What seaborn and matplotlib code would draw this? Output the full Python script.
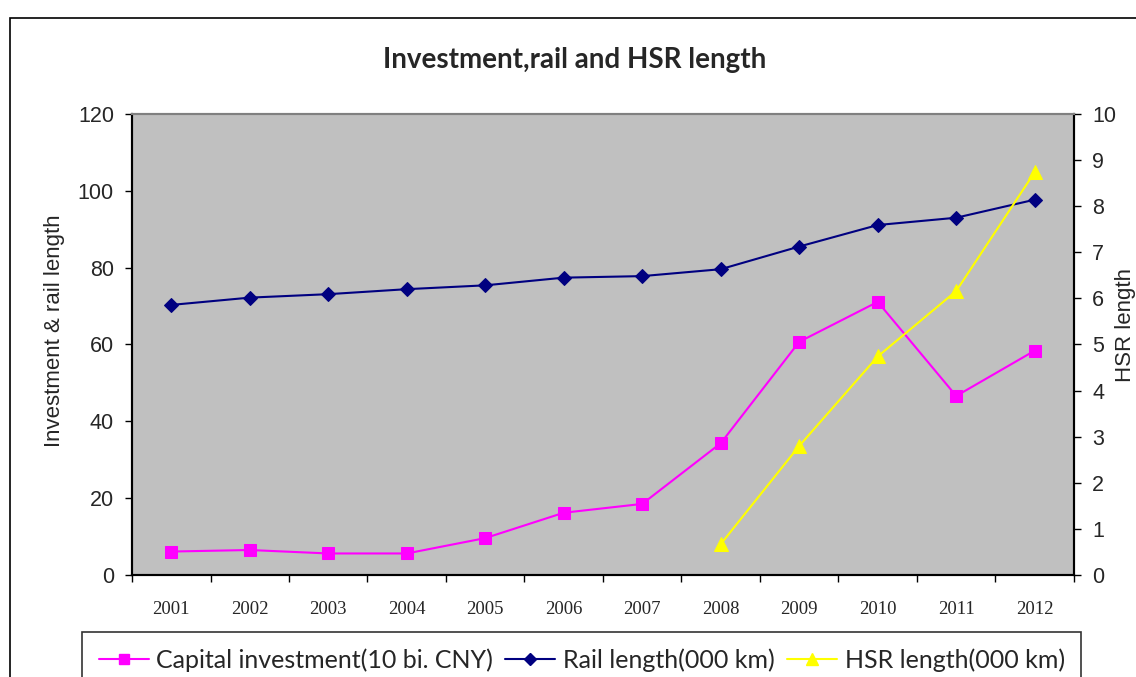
import pandas as pd
import numpy as np
import matplotlib.pyplot as plt
from matplotlib.patches import Rectangle
from matplotlib.lines import Line2D
import seaborn as sns

sns.set_theme(style='white')
plt.rcParams['font.family'] = ['Liberation Sans', 'DejaVu Sans']

years = [2001, 2002, 2003, 2004, 2005, 2006, 2007, 2008, 2009, 2010, 2011, 2012]
capital = [6.1, 6.5, 5.6, 5.6, 9.6, 16.2, 18.5, 34.3, 60.7, 71.1, 46.6, 58.4]
rail = [70.3, 72.2, 73.1, 74.4, 75.4, 77.4, 77.8, 79.6, 85.5, 91.1, 93.0, 97.7]
hsr = [np.nan] * 7 + [0.67, 2.80, 4.74, 6.16, 8.74]

df = pd.DataFrame({'year': years, 'capital': capital, 'rail': rail, 'hsr': hsr})

fig = plt.figure(figsize=(11.36, 6.77), dpi=100)
ax = fig.add_axes([0.1162, 0.1507, 0.8292, 0.6809])
ax.set_facecolor('#C0C0C0')

pink, navy, yellow = '#FF00FF', '#000080', '#FFFF00'

sns.lineplot(data=df, x='year', y='capital', ax=ax, color=pink, lw=1.5,
             marker='s', markersize=8, markeredgecolor=pink)
sns.lineplot(data=df, x='year', y='rail', ax=ax, color=navy, lw=1.5,
             marker='D', markersize=7, markeredgecolor=navy)
ax2 = ax.twinx()
sns.lineplot(data=df.dropna(), x='year', y='hsr', ax=ax2, color=yellow, lw=1.5,
             marker='^', markersize=10, markeredgecolor=yellow)

ax.set_xlim(2000.5, 2012.5)
ax.set_ylim(0, 120)
ax2.set_ylim(0, 10)
ax.set_yticks(range(0, 121, 20))
ax2.set_yticks(range(0, 11))
ax.set_xticks(years)
ax.set_xticklabels([str(y) for y in years], family='Liberation Serif', fontsize=13.5)
ax.set_xticks(np.arange(2000.5, 2013, 1), minor=True)
ax.tick_params(axis='x', which='major', length=0, pad=19)
ax.tick_params(axis='x', which='minor', bottom=True, length=5, width=1, color='black', direction='out')
ax.tick_params(axis='y', left=True, length=5, width=1, color='black', direction='out', labelsize=15.5, pad=8)
ax2.tick_params(axis='y', right=True, length=5, width=1, color='black', direction='out', labelsize=15.5, pad=8)

ax.set_xlabel('')
ax.set_ylabel('Investment & rail length', fontsize=16)
ax2.set_ylabel('HSR length', fontsize=16)
ax.yaxis.set_label_coords(-0.071, 0.529)
ax2.yaxis.set_label_coords(1.0435, 0.542)

for a in (ax, ax2):
    for side in ('left', 'right', 'bottom'):
        a.spines[side].set_color('black')
        a.spines[side].set_linewidth(1.5)
    a.spines['top'].set_color('#808080')
    a.spines['top'].set_linewidth(1.5)

fig.text(0.506, 0.912, 'Investment,rail and HSR length', ha='center', va='center',
         fontsize=20, fontweight='bold', family=['Lato', 'DejaVu Sans'])

# outer chart border
fig.patches.append(Rectangle((10 / 1136, -0.05), 1.2, 1 - 18 / 677 + 0.05,
                             transform=fig.transFigure, fill=False,
                             edgecolor='black', lw=1.2))

handles = [
    Line2D([], [], color=pink, lw=1.5, marker='s', markersize=7, markeredgecolor=pink),
    Line2D([], [], color=navy, lw=1.5, marker='D', markersize=6, markeredgecolor=navy),
    Line2D([], [], color=yellow, lw=1.5, marker='^', markersize=8, markeredgecolor=yellow),
]
labels = ['Capital investment(10 bi. CNY)', 'Rail length(000 km)', 'HSR length(000 km)']
leg = fig.legend(handles, labels, loc='upper center', bbox_to_anchor=(0.512, 1 - 632 / 677),
                 ncol=3, frameon=True, fancybox=False, edgecolor='black',
                 prop={'family': ['Lato', 'DejaVu Sans'], 'size': 18},
                 handlelength=2.0, handletextpad=0.3, columnspacing=0.5,
                 borderpad=0.65, borderaxespad=0)
leg.get_frame().set_linewidth(1.2)

fig.savefig('out.png', dpi=100)
